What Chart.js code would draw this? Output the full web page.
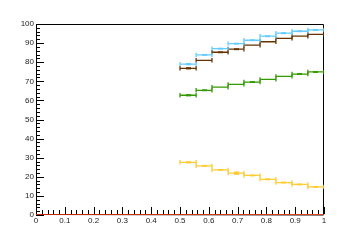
<!DOCTYPE html>
<html>
<head>
<meta charset="utf-8">
<script src="https://cdn.jsdelivr.net/npm/chart.js@4/dist/chart.umd.min.js"></script>
<style>
  html, body { margin: 0; padding: 0; background: #fff; }
  #wrap { width: 360px; height: 240px; }
</style>
</head>
<body>
<div id="wrap"><canvas id="chart" width="360" height="240"></canvas></div>
<script>
// histogram bin edges (9 bins from 0.5 to 1)
const binEdges = [0.5, 0.556, 0.611, 0.667, 0.722, 0.778, 0.833, 0.889, 0.944, 1.0];

const blueValues = [79.0, 83.8, 87.1, 89.7, 91.5, 93.6, 95.2, 96.2, 96.9];
const brownValues = [76.8, 81.0, 85.2, 86.8, 88.9, 90.7, 92.5, 93.6, 94.6];
const greenValues = [62.7, 65.3, 66.9, 68.4, 69.6, 71.0, 72.6, 73.8, 74.9];
const yellowValues = [27.6, 25.7, 23.6, 21.9, 20.7, 18.7, 17.0, 16.0, 14.7];

const blueErrors = [0.6, 0.5, 0.5, 0.5, 0.5, 0.5, 0.5, 0.5, 0.5];
const brownErrors = [0.6, 0, 0.5, 0.5, 0, 0, 0, 0, 0];
const greenErrors = [0.6, 0.5, 0, 0, 0.5, 0, 0, 0.5, 0.5];
const yellowErrors = [0.6, 0.5, 0.5, 0.9, 0.5, 0.5, 0.5, 0.5, 0.5];

// empty reference histogram over the full range
const zeroEdges = [0, 1];
const zeroValues = [0];

const xTickValues = [0, 0.1, 0.2, 0.3, 0.4, 0.5, 0.6, 0.7, 0.8, 0.9, 1];
const yTickValues = [0, 10, 20, 30, 40, 50, 60, 70, 80, 90, 100];

const COLORS = {
    blue: "#66ccff",
    brown: "#663300",
    green: "#339900",
    yellow: "#ffcc33",
    red: "#ff3300"
};

function histPoints(edges, values) {
    const pts = [];
    values.forEach((v, i) => {
        pts.push({ x: edges[i], y: v });
        pts.push({ x: edges[i + 1], y: v });
        pts.push({ x: edges[i + 1], y: null });
    });
    return pts;
}

function histDataset(label, edges, values, errors, color, caps) {
    return {
        label: label,
        data: histPoints(edges, values),
        errors: errors,
        edges: edges,
        values: values,
        showLine: true,
        spanGaps: false,
        borderColor: color,
        backgroundColor: color,
        borderWidth: 1.3,
        pointStyle: "line",
        rotation: 90,
        pointBorderWidth: 1.3,
        pointRadius: (ctx) => (caps && ctx.raw && ctx.raw.y !== null ? 2.2 : 0),
        pointHoverRadius: 0
    };
}

// small vertical error boxes at bin centres
const errorBoxes = {
    id: "errorBoxes",
    afterDatasetsDraw(chart) {
        const ctx = chart.ctx;
        const xs = chart.scales.x;
        const ys = chart.scales.y;
        chart.data.datasets.forEach(ds => {
            if (!ds.errors) return;
            ctx.fillStyle = ds.borderColor;
            ds.values.forEach((v, i) => {
                const e = ds.errors[i];
                if (!e) return;
                const cx = xs.getPixelForValue((ds.edges[i] + ds.edges[i + 1]) / 2);
                const top = ys.getPixelForValue(v + e);
                const bot = ys.getPixelForValue(v - e);
                ctx.fillRect(Math.round(cx - 2.5), top, 5, Math.max(1.5, bot - top));
            });
        });
    }
};

// ROOT-like frame, drawn under the histograms
const frame = {
    id: "frame",
    beforeDatasetsDraw(chart) {
        const ctx = chart.ctx;
        const a = chart.chartArea;
        ctx.save();
        ctx.strokeStyle = "#000";
        ctx.lineWidth = 1;
        ctx.beginPath();
        ctx.moveTo(a.left + 0.5, a.bottom);
        ctx.lineTo(a.left + 0.5, a.top + 0.5);
        ctx.lineTo(a.right - 0.5, a.top + 0.5);
        ctx.lineTo(a.right - 0.5, a.bottom);
        ctx.lineTo(a.left, a.bottom - 0.5);
        ctx.stroke();
        ctx.restore();
    }
};

// inward tick marks, drawn on top
const innerTicks = {
    id: "innerTicks",
    afterDraw(chart) {
        const ctx = chart.ctx;
        const a = chart.chartArea;
        const xs = chart.scales.x;
        const ys = chart.scales.y;
        ctx.save();
        ctx.strokeStyle = "#000";
        ctx.lineWidth = 1;
        ctx.beginPath();
        for (let k = 0; k <= 50; k++) {
            const px = Math.round(xs.getPixelForValue(k / 50)) + 0.5;
            const len = k % 5 === 0 ? 8 : 5;
            ctx.moveTo(px, a.bottom - 1);
            ctx.lineTo(px, a.bottom - len);
        }
        for (let k = 0; k <= 50; k++) {
            const py = Math.round(ys.getPixelForValue(k * 2)) + 0.5;
            const len = k % 5 === 0 ? 8 : 4;
            ctx.moveTo(a.left, py);
            ctx.lineTo(a.left + len, py);
        }
        ctx.stroke();
        ctx.restore();
    }
};

const tickFont = { family: "'Liberation Sans', Arial, sans-serif", size: 8 };

new Chart(document.getElementById("chart"), {
    type: "scatter",
    data: {
        datasets: [
            histDataset("blue", binEdges, blueValues, blueErrors, COLORS.blue, true),
            histDataset("brown", binEdges, brownValues, brownErrors, COLORS.brown, true),
            histDataset("green", binEdges, greenValues, greenErrors, COLORS.green, true),
            histDataset("yellow", binEdges, yellowValues, yellowErrors, COLORS.yellow, true),
            histDataset("zero", zeroEdges, zeroValues, null, COLORS.red, false)
        ]
    },
    options: {
        responsive: false,
        animation: false,
        events: [],
        layout: { padding: { top: 24, right: 36, left: 0, bottom: 0 } },
        plugins: {
            legend: { display: false },
            tooltip: { enabled: false }
        },
        scales: {
            x: {
                type: "linear",
                min: 0,
                max: 1,
                afterBuildTicks: (scale) => { scale.ticks = xTickValues.map(v => ({ value: v })); },
                afterFit: (scale) => { scale.height = 25; },
                grid: { display: false, drawTicks: false },
                border: { display: false },
                ticks: {
                    padding: 1,
                    color: "#222",
                    font: tickFont,
                    maxRotation: 0,
                    autoSkip: false,
                    callback: (v) => String(Math.round(v * 10) / 10)
                }
            },
            y: {
                type: "linear",
                min: 0,
                max: 100,
                afterBuildTicks: (scale) => { scale.ticks = yTickValues.map(v => ({ value: v })); },
                afterFit: (scale) => { scale.width = 36; },
                grid: { display: false, drawTicks: false },
                border: { display: false },
                ticks: {
                    padding: 2,
                    color: "#222",
                    font: tickFont,
                    autoSkip: false,
                    callback: (v) => String(v)
                }
            }
        }
    },
    plugins: [frame, errorBoxes, innerTicks]
});
</script>
</body>
</html>
